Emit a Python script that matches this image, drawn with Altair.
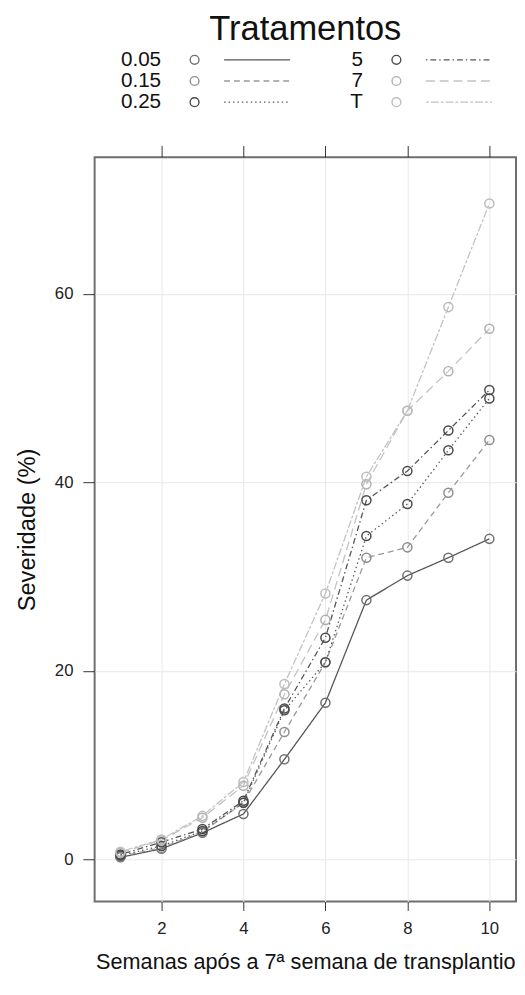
import altair as alt
import pandas as pd

weeks = [1, 2, 3, 4, 5, 6, 7, 8, 9, 10]
treatments = ["0.05", "0.15", "0.25", "5", "7", "T"]
sev_005 = [0.2, 1.1, 2.8, 4.8, 10.6, 16.6, 27.5, 30.1, 32.0, 34.0]
sev_015 = [0.3, 1.2, 2.9, 6.0, 13.5, 20.9, 32.0, 33.1, 38.9, 44.5]
sev_025 = [0.4, 1.4, 3.0, 6.0, 15.8, 20.9, 34.3, 37.7, 43.4, 48.9]
sev_5 = [0.5, 1.8, 3.2, 6.2, 16.0, 23.5, 38.1, 41.2, 45.5, 49.8]
sev_7 = [0.7, 2.0, 4.4, 7.8, 17.5, 25.4, 39.8, 47.6, 51.8, 56.3]
sev_T = [0.8, 2.1, 4.6, 8.2, 18.6, 28.2, 40.6, 47.6, 58.6, 69.6]
series = [sev_005, sev_015, sev_025, sev_5, sev_7, sev_T]

legend_col = [0, 0, 0, 1, 1, 1]
legend_row = [0, 1, 2, 0, 1, 2]

line_colors = ["#555555", "#999999", "#5a5a5a", "#555555", "#c2c2c2", "#c2c2c2"]
point_colors = ["#707070", "#8f8f8f", "#4a4a4a", "#4a4a4a", "#b0b0b0", "#bdbdbd"]
dashes = [[1, 0], [6, 4], [1.5, 3], [1.5, 3, 6, 3], [9, 5], [3, 2, 8, 2]]

FONT = "Liberation Sans"

rows = []
for t, vals in zip(treatments, series):
    for w, v in zip(weeks, vals):
        rows.append({"trat": t, "semana": w, "sev": v})
df = pd.DataFrame(rows)

leg_df = pd.DataFrame({"trat": treatments, "col": legend_col, "row": legend_row})

xs = alt.Scale(domain=[0.37, 10.65], nice=False, zero=False)
ys = alt.Scale(domain=[-4.5, 74.5], nice=False, zero=False)
color = alt.Color("trat:N", scale=alt.Scale(domain=treatments, range=line_colors), legend=None)
dash = alt.StrokeDash("trat:N", scale=alt.Scale(domain=treatments, range=dashes), legend=None)
stroke = alt.Stroke("trat:N", scale=alt.Scale(domain=treatments, range=point_colors), legend=None)

base = alt.Chart(df)

lines = base.mark_line(strokeWidth=1.3).encode(
    x=alt.X("semana:Q", scale=xs, axis=alt.Axis(
        orient="bottom", values=[2, 4, 6, 8, 10], title="Semanas após a 7ª semana de transplantio",
        grid=True, tickSize=9, labelPadding=10, titlePadding=16, labelFontSize=17, titleFontSize=22)),
    y=alt.Y("sev:Q", scale=ys, axis=alt.Axis(
        orient="left", values=[0, 20, 40, 60], title="Severidade (%)",
        grid=True, tickSize=12, labelPadding=10, titlePadding=15, labelFontSize=17, titleFontSize=24)),
    color=color,
    strokeDash=dash,
)

points = base.mark_point(filled=False, size=85, strokeWidth=1.5, opacity=1).encode(
    x=alt.X("semana:Q", scale=xs, axis=None),
    y=alt.Y("sev:Q", scale=ys, axis=None),
    stroke=stroke,
)

ticks_layer = base.mark_point(opacity=0).encode(
    x=alt.X("semana:Q", scale=xs, axis=alt.Axis(
        orient="top", values=[2, 4, 6, 8, 10], labels=False, title=None, grid=False, tickSize=12)),
    y=alt.Y("sev:Q", scale=ys, axis=None),
)

main = alt.layer(lines, points, ticks_layer).resolve_axis(x="independent", y="independent").properties(
    width=428, height=756,
    view=alt.ViewBackground(stroke="#6e6e6e", strokeWidth=2),
)

leg_x = alt.X("col:O", scale=alt.Scale(type="point", padding=0.544), axis=None)
leg_y = alt.Y("row:O", scale=alt.Scale(type="point", padding=0), axis=None)
leg_base = alt.Chart(leg_df)

leg_text = leg_base.mark_text(align="right", baseline="middle", dx=-44, fontSize=21, font=FONT, color="#111111").encode(
    x=leg_x, y=leg_y, text="trat:N")
leg_pts = leg_base.mark_point(filled=False, size=80, strokeWidth=1.4, opacity=1, xOffset=-10).encode(
    x=leg_x, y=leg_y, stroke=stroke)
leg_lines = leg_base.mark_rule(strokeWidth=1.3, xOffset=20, x2Offset=87).encode(
    x=leg_x, x2=alt.X2("col:O"), y=leg_y, color=color, strokeDash=dash)

legend = alt.layer(leg_text, leg_pts, leg_lines).properties(
    width=428, height=43,
    view=alt.ViewBackground(stroke="transparent"),
)

chart = alt.vconcat(
    legend, main, spacing=56, bounds="flush",
    title=alt.TitleParams("Tratamentos", fontSize=35, font=FONT, fontWeight="normal", anchor="middle",
                          color="#111111", frame="group", offset=2),
).properties(
    padding={"left": 7, "top": -4, "right": 0, "bottom": 0}
).configure_axis(
    labelFont=FONT, titleFont=FONT, labelColor="#222222", titleColor="#111111",
    tickColor="#333333", tickWidth=1, domain=False, gridColor="#e8e8e8", gridWidth=1,
    titleFontWeight="normal",
).configure_view(stroke="transparent")

chart.save("out.html", embed_options={"renderer": "svg", "actions": False})
